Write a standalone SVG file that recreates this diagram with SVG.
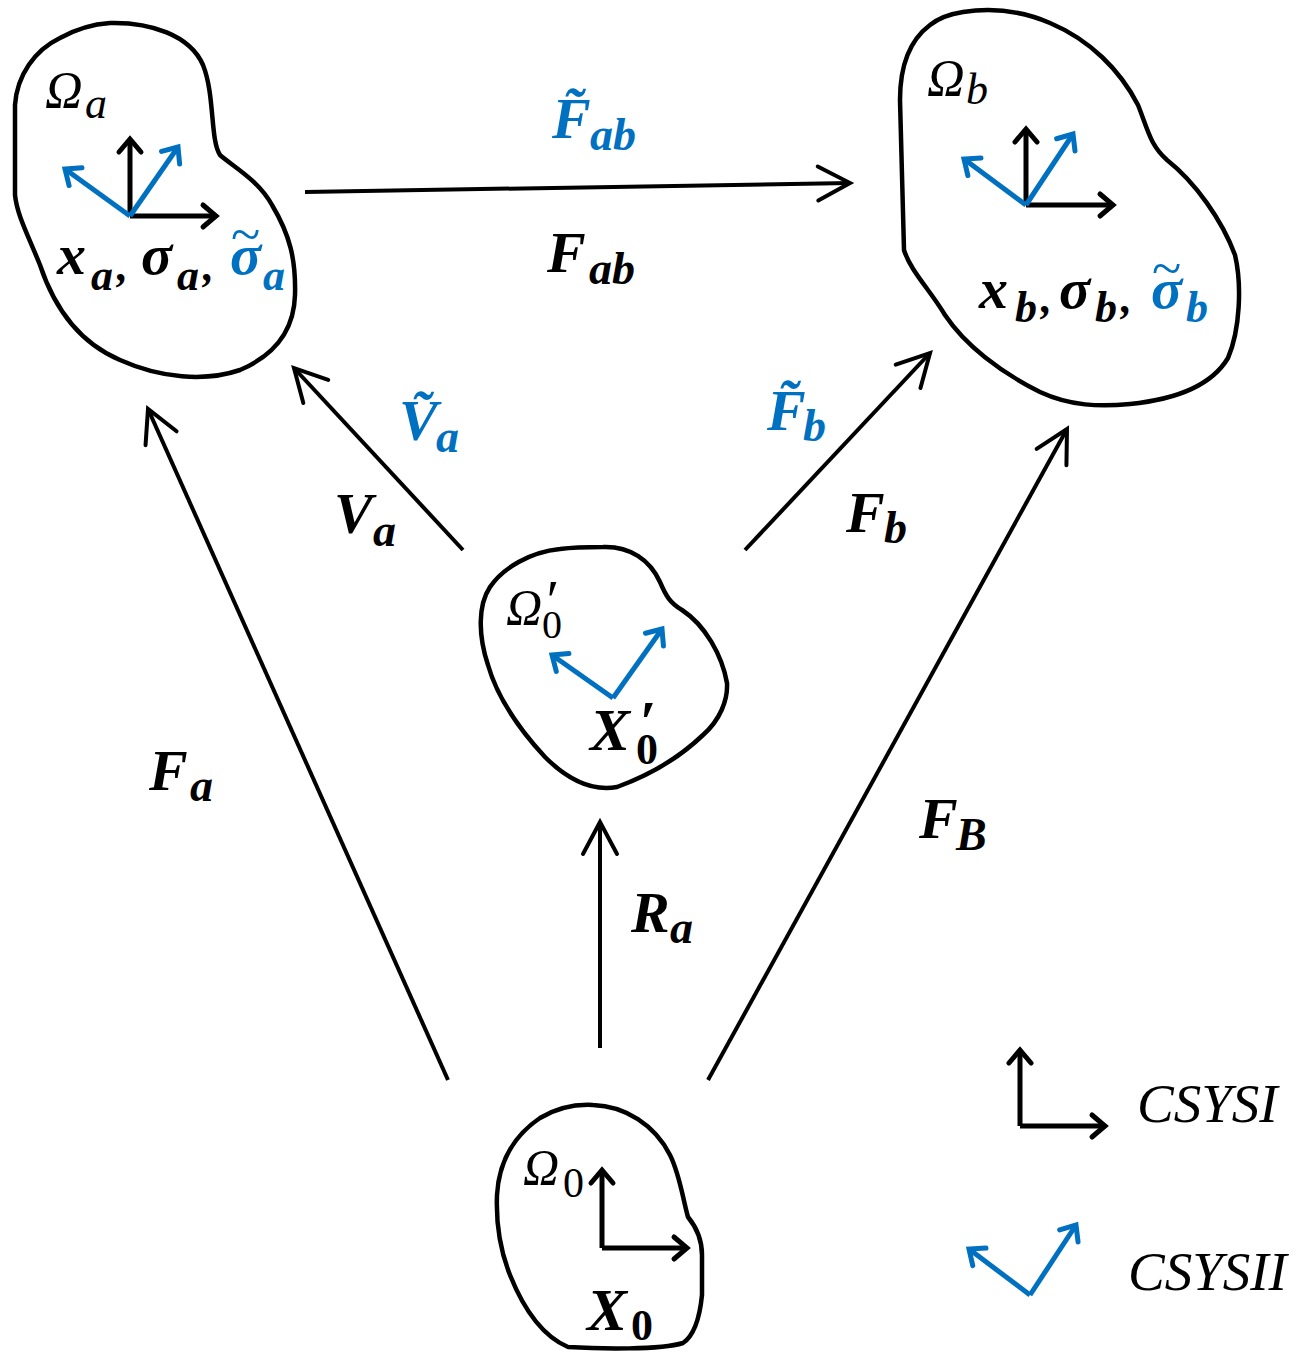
<svg xmlns="http://www.w3.org/2000/svg" width="1316" height="1353" viewBox="0 0 1316 1353">
<style>
.blob{fill:none;stroke:#000;stroke-width:4.5;stroke-linejoin:round}
.con{stroke:#000;stroke-width:4;fill:none;marker-end:url(#ah)}
.k{stroke:#000;stroke-width:5;fill:none;marker-end:url(#sk)}
.b{stroke:#0070C0;stroke-width:5;fill:none;marker-end:url(#sb)}
.lb{font-family:"Liberation Serif",serif;font-weight:bold;font-style:italic;fill:#000}
.om{font-family:"Liberation Serif",serif;font-style:italic;fill:#000}
.up{font-style:normal}
.blue{fill:#0070C0}
.tl{font-weight:normal;font-style:normal}
.leg{font-family:"Liberation Serif",serif;font-style:italic;font-size:55px;fill:#000}
</style>
<defs>
<marker id="ah" markerUnits="userSpaceOnUse" markerWidth="60" markerHeight="60" viewBox="-40 -30 50 60" refX="0" refY="0" orient="auto" overflow="visible">
<path d="M-32,-17 L0,0 L-32,17" fill="none" stroke="#000" stroke-width="4" stroke-linecap="round"/>
</marker>
<marker id="sk" markerUnits="userSpaceOnUse" markerWidth="40" markerHeight="40" viewBox="-20 -20 30 40" refX="0" refY="0" orient="auto" overflow="visible">
<path d="M-13,-11 L0,0 L-13,11" fill="none" stroke="#000" stroke-width="5" stroke-linecap="round"/>
</marker>
<marker id="sb" markerUnits="userSpaceOnUse" markerWidth="40" markerHeight="40" viewBox="-20 -20 30 40" refX="0" refY="0" orient="auto" overflow="visible">
<path d="M-13,-11 L0,0 L-13,11" fill="none" stroke="#0070C0" stroke-width="5" stroke-linecap="round"/>
</marker>
</defs>

<g id="omega-a">
<path class="blob" d="M110,23 C150,22 190,35 203,65 C215,95 210,140 220,155 C235,168 258,180 272,205 C290,235 296,260 295,295 C294,330 275,355 240,370 C205,382 160,378 120,360 C80,343 55,310 40,265 C28,235 17,215 15,195 L15,105 C17,75 35,50 60,38 C78,28 95,24 110,23 Z"/>
<line class="k" x1="130" y1="216" x2="130" y2="139"/>
<line class="k" x1="130" y1="216" x2="216" y2="216"/>
<line class="b" x1="130" y1="216" x2="65" y2="169"/>
<line class="b" x1="130" y1="216" x2="178" y2="147"/>
<text class="om" font-size="52" x="45" y="108">Ω<tspan x="85" y="118" font-size="44">a</tspan></text>
<text class="lb" font-size="58" x="57" y="274">x<tspan x="91" y="290" font-size="44">a</tspan><tspan x="117" y="281" font-size="44">,</tspan><tspan x="141" y="274">σ</tspan><tspan x="177" y="290" font-size="44">a</tspan><tspan x="203" y="281" font-size="44">,</tspan><tspan class="blue" x="230" y="274">σ</tspan><tspan class="blue tl" x="231" y="253" font-size="54">~</tspan><tspan class="blue" x="263" y="290" font-size="44">a</tspan></text>
</g>

<g id="omega-b">
<path class="blob" d="M963,12 C990,8 1020,10 1050,23 C1090,40 1120,70 1138,105 C1148,130 1150,145 1167,160 C1195,182 1222,220 1235,255 C1242,285 1240,330 1228,358 C1210,388 1170,400 1130,404 C1100,407 1070,406 1040,392 C1000,372 965,345 945,315 C930,290 910,270 904,250 L900,100 C900,65 910,40 930,25 C940,17 950,14 963,12 Z"/>
<line class="k" x1="1026" y1="205" x2="1026" y2="129"/>
<line class="k" x1="1026" y1="205" x2="1113" y2="205"/>
<line class="b" x1="1026" y1="205" x2="964" y2="159"/>
<line class="b" x1="1026" y1="205" x2="1073" y2="134"/>
<text class="om" font-size="52" x="927" y="96">Ω<tspan x="966" y="104" font-size="44">b</tspan></text>
<text class="lb" font-size="58" x="979" y="308">x<tspan x="1015" y="322" font-size="44">b</tspan><tspan x="1041" y="313" font-size="44">,</tspan><tspan x="1059" y="308">σ</tspan><tspan x="1095" y="322" font-size="44">b</tspan><tspan x="1121" y="313" font-size="44">,</tspan><tspan class="blue" x="1151" y="308">σ</tspan><tspan class="blue tl" x="1152" y="287" font-size="54">~</tspan><tspan class="blue" x="1186" y="322" font-size="44">b</tspan></text>
</g>

<g id="omega-0p">
<path class="blob" d="M603,547 C630,546 650,560 660,582 C666,596 670,603 682,610 C705,625 722,655 727,683 C728,700 720,720 703,735 C680,757 650,775 617,787 C590,792 565,777 545,757 C520,730 498,700 488,665 C478,635 478,605 490,587 C503,568 530,552 560,549 C575,547 590,547 603,547 Z"/>
<line class="b" x1="613" y1="698" x2="552" y2="655"/>
<line class="b" x1="613" y1="698" x2="662" y2="629"/>
<text class="om" font-size="50" x="506" y="624">Ω<tspan x="543" y="620" font-size="58">′</tspan><tspan class="up" x="542" y="638" font-size="40">0</tspan></text>
<text class="lb" font-size="60" x="590" y="750">X<tspan x="639" y="742" font-size="60">′</tspan><tspan x="636" y="764" font-size="44" font-style="normal">0</tspan></text>
</g>

<g id="omega-0">
<path class="blob" d="M593,1105 C625,1106 655,1125 670,1155 C680,1175 683,1200 688,1217 C697,1228 702,1240 702,1255 L702,1295 C700,1315 695,1335 683,1343 C660,1350 600,1349 568,1347 C540,1335 522,1305 510,1275 C500,1250 496,1220 497,1195 C499,1160 515,1135 540,1118 C557,1108 575,1104 593,1105 Z"/>
<line class="k" x1="602" y1="1248" x2="602" y2="1170"/>
<line class="k" x1="602" y1="1248" x2="687" y2="1248"/>
<text class="om" font-size="50" x="523" y="1184">Ω<tspan class="up" x="563" y="1197" font-size="42">0</tspan></text>
<text class="lb" font-size="60" x="587" y="1330">X<tspan x="631" y="1340" font-size="44" font-style="normal">0</tspan></text>
</g>

<g id="connectors">
<line class="con" x1="305" y1="192" x2="850" y2="183"/>
<line class="con" x1="463" y1="550" x2="294" y2="368"/>
<line class="con" x1="448" y1="1080" x2="148" y2="409"/>
<line class="con" x1="745" y1="550" x2="930" y2="353"/>
<line class="con" x1="708" y1="1080" x2="1067" y2="429"/>
<line class="con" x1="600" y1="1048" x2="600" y2="822"/>
</g>

<g id="labels">
<text class="lb blue" font-size="58" x="552" y="138">F̃<tspan x="590" y="150" font-size="46">ab</tspan></text>
<text class="lb" font-size="58" x="547" y="272">F<tspan x="589" y="284" font-size="46">ab</tspan></text>
<text class="lb blue" font-size="58" x="399" y="440">Ṽ<tspan x="436" y="452" font-size="46">a</tspan></text>
<text class="lb" font-size="58" x="334" y="533">V<tspan x="373" y="546" font-size="46">a</tspan></text>
<text class="lb blue" font-size="58" x="767" y="430">F̃<tspan x="803" y="441" font-size="46">b</tspan></text>
<text class="lb" font-size="58" x="846" y="532">F<tspan x="884" y="543" font-size="46">b</tspan></text>
<text class="lb" font-size="58" x="149" y="790">F<tspan x="190" y="801" font-size="46">a</tspan></text>
<text class="lb" font-size="58" x="919" y="838">F<tspan x="956" y="850" font-size="46">B</tspan></text>
<text class="lb" font-size="58" x="631" y="932">R<tspan x="670" y="943" font-size="46">a</tspan></text>
</g>

<g id="legend">
<line class="k" x1="1020" y1="1126" x2="1020" y2="1050"/>
<line class="k" x1="1020" y1="1126" x2="1105" y2="1126"/>
<text class="leg" x="1137" y="1122">CSYSI</text>
<line class="b" x1="1030" y1="1295" x2="969" y2="1249"/>
<line class="b" x1="1030" y1="1295" x2="1076" y2="1225"/>
<text class="leg" x="1128" y="1290">CSYSII</text>
</g>
</svg>
